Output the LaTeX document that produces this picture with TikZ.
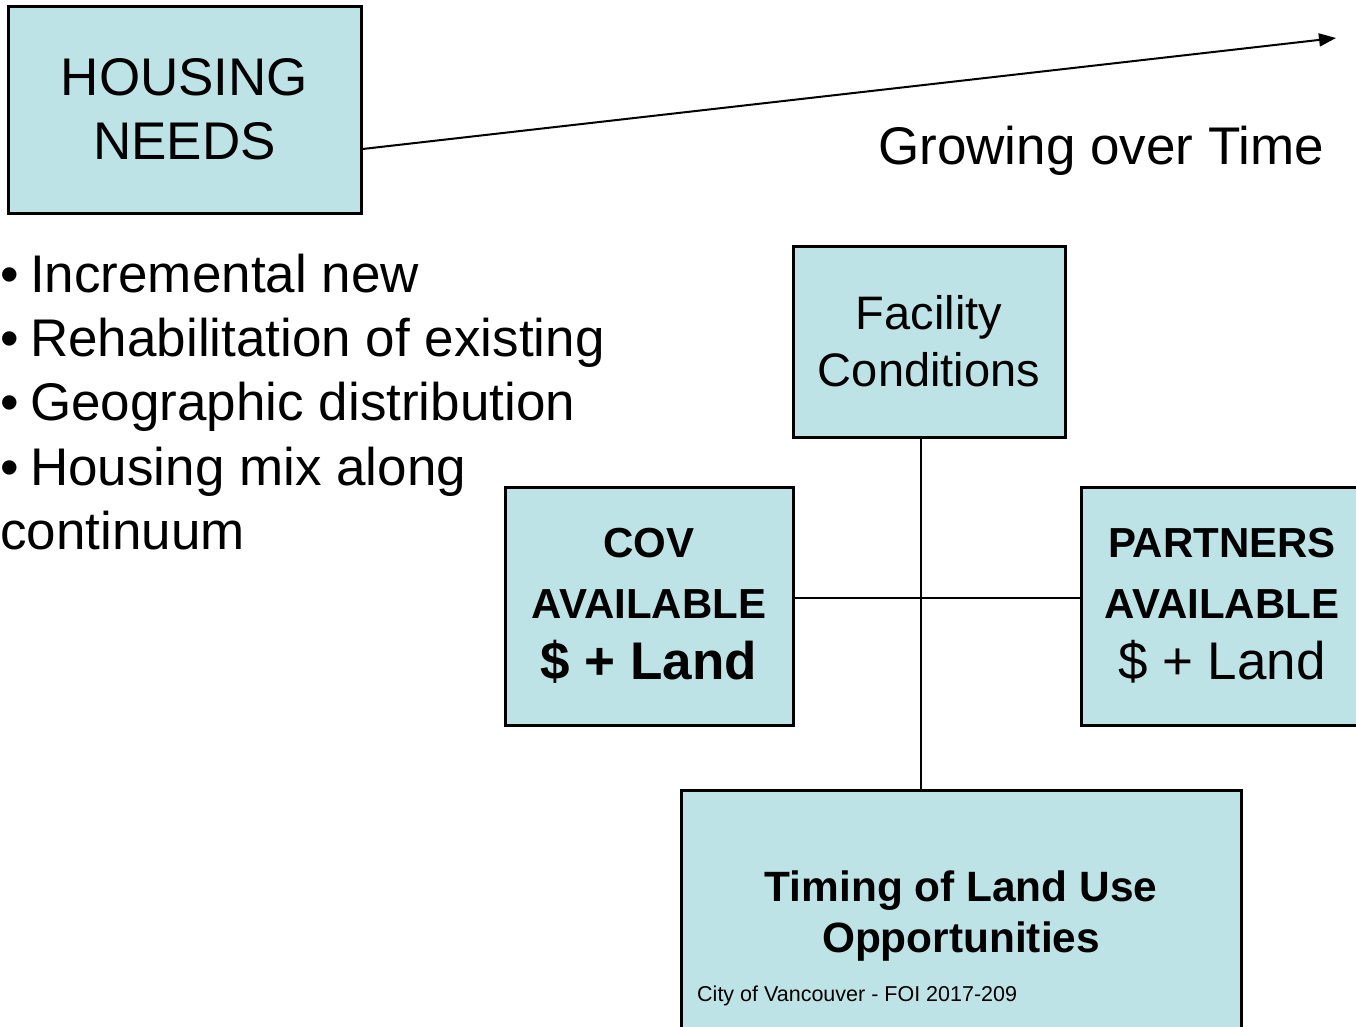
\documentclass[tikz,border=0pt]{standalone}
\usepackage{fontspec}
\setmainfont{Liberation Sans}
\usetikzlibrary{arrows.meta}
\definecolor{boxfill}{RGB}{190,227,230}
\tikzset{
  boxnode/.style={draw=black, line width=3pt, fill=boxfill, rectangle, inner sep=0pt, align=center},
  link/.style={draw=black, line width=2.5pt},
  bigtext/.style={font=\fontsize{53}{64}\selectfont},
}
\begin{document}
\begin{tikzpicture}[x=1pt,y=-1pt]
\useasboundingbox (0,0) rectangle (1356,1026);
\clip (0,0) rectangle (1356,1026);
\fill[white] (0,0) rectangle (1356,1026);

% boxes
\node[boxnode, minimum width=353pt, minimum height=207pt, bigtext] (hn) at (184.5,109.5) {HOUSING\\NEEDS};
\node[boxnode, minimum width=272pt, minimum height=191pt, font=\fontsize{47}{57}\selectfont] (fac) at (929,341.5) {Facility\\Conditions};
\node[boxnode, minimum width=288pt, minimum height=238pt, font=\fontsize{42}{61}\selectfont\bfseries] (cov) at (649,606) {COV\\AVAILABLE\\{\fontsize{53}{61}\selectfont \$ + Land}};
\node[boxnode, minimum width=282pt, minimum height=238pt, font=\fontsize{42}{61}\selectfont] (par) at (1222,606) {\textbf{PARTNERS}\\\textbf{AVAILABLE}\\{\fontsize{53}{61}\selectfont \$ + Land}};
\node[boxnode, minimum width=560pt, minimum height=252pt, font=\fontsize{42.4}{51}\selectfont\bfseries] (tim) at (961,916) {Timing of Land Use\\Opportunities};
\node[anchor=base west, inner sep=0pt, font=\fontsize{21.5}{26}\selectfont] (foi) at (697,1001) {City of Vancouver - FOI 2017-209};

% arrow
\coordinate (arrend) at (1336,38);
\draw[line width=2pt, -{Triangle[length=17pt,width=13pt]}] ([yshift=-39.5pt]hn.east) -- (arrend);
\node[anchor=base west, inner sep=0pt, bigtext] (grow) at (878,164) {Growing over Time};

% bullets
\node[anchor=base west, inner sep=0pt, bigtext] (b1) at (0,292) {\makebox[30pt][l]{\textbullet}Incremental new};
\node[anchor=base west, inner sep=0pt, bigtext] (b2) at (0,356.3) {\makebox[30pt][l]{\textbullet}Rehabilitation of existing};
\node[anchor=base west, inner sep=0pt, bigtext] (b3) at (0,420.6) {\makebox[30pt][l]{\textbullet}Geographic distribution};
\node[anchor=base west, inner sep=0pt, bigtext] (b4) at (0,485) {\makebox[30pt][l]{\textbullet}Housing mix along};
\node[anchor=base west, inner sep=0pt, bigtext] (b5) at (0,549) {continuum};

% connectors
\coordinate (vx) at (921,0);
\coordinate (hy) at (0,598);
\draw[link] (fac.south -| vx) -- (tim.north -| vx);
\draw[link] (cov.east |- hy) -- (par.west |- hy);
\end{tikzpicture}
\end{document}
